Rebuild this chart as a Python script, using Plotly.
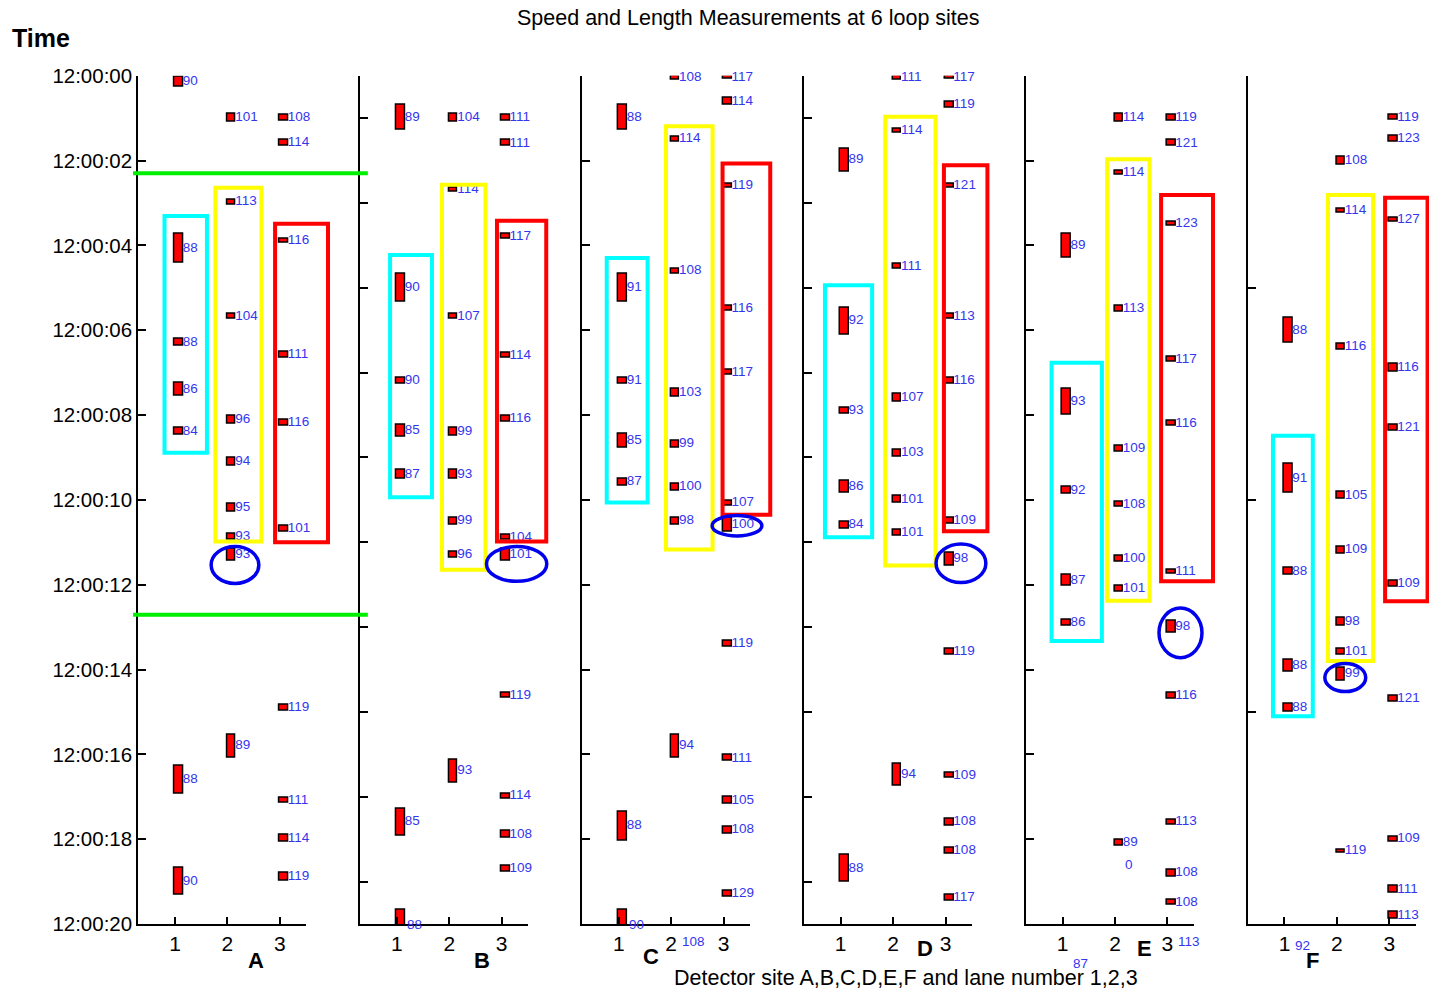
import plotly.graph_objects as go

W, H = 1429, 993

# ---------------- data (time = seconds after 12:00:00, dur = occupancy seconds) ----------------
panels = ["A", "B", "C", "D", "E", "F"]

A_lane = [1]*7 + [2]*9 + [3]*10
A_start = [0.02, 3.73, 6.21, 7.24, 8.30, 16.27, 18.67,
           0.90, 2.93, 5.62, 8.01, 9.00, 10.10, 10.80, 11.14, 15.53,
           0.93, 1.50, 3.85, 6.51, 8.10, 10.62, 14.84, 17.02, 17.90, 18.80]
A_dur = [0.24, 0.68, 0.16, 0.30, 0.17, 0.65, 0.64,
         0.18, 0.10, 0.12, 0.19, 0.19, 0.19, 0.15, 0.29, 0.54,
         0.13, 0.16, 0.09, 0.15, 0.14, 0.14, 0.13, 0.13, 0.17, 0.17]
A_speed = [90, 88, 88, 86, 84, 88, 90,
           101, 113, 104, 96, 94, 95, 93, 93, 89,
           108, 114, 116, 111, 116, 101, 119, 111, 114, 119]

B_lane = [1]*7 + [2]*8 + [3]*11
B_start = [0.69, 4.67, 7.11, 8.23, 9.30, 17.27, 19.67,
           0.90, 2.63, 5.62, 8.30, 9.30, 10.41, 11.22, 16.12,
           0.93, 1.52, 3.73, 6.53, 8.02, 10.81, 11.16, 14.55, 16.92, 17.81, 18.63]
B_dur = [0.58, 0.65, 0.15, 0.28, 0.19, 0.64, 0.68,
         0.19, 0.11, 0.12, 0.18, 0.19, 0.18, 0.15, 0.54,
         0.13, 0.14, 0.11, 0.13, 0.13, 0.14, 0.28, 0.12, 0.13, 0.16, 0.13]
B_speed = [89, 90, 90, 85, 87, 85, 88,
           104, 114, 107, 99, 93, 99, 96, 93,
           111, 111, 117, 114, 116, 104, 101, 119, 114, 108, 109]

C_lane = [1]*7 + [2]*9 + [3]*12
C_start = [0.69, 4.66, 7.11, 8.45, 9.49, 17.35, 19.67,
           0.01, 1.44, 4.54, 7.39, 8.60, 9.61, 10.41, 15.53, 20.35,
           0.00, 0.52, 2.54, 5.43, 6.92, 10.02, 10.43, 13.33, 16.02, 17.00, 17.70, 19.21]
C_dur = [0.58, 0.66, 0.15, 0.31, 0.18, 0.68, 0.68,
         0.08, 0.11, 0.13, 0.18, 0.17, 0.17, 0.18, 0.54, 0.14,
         0.07, 0.16, 0.11, 0.11, 0.14, 0.11, 0.32, 0.13, 0.14, 0.17, 0.17, 0.15]
C_speed = [88, 91, 91, 85, 87, 88, 90,
           108, 114, 108, 103, 99, 100, 98, 94, 108,
           117, 114, 119, 116, 117, 107, 100, 119, 111, 105, 108, 129]

D_lane = [1]*6 + [2]*8 + [3]*12
D_start = [1.71, 5.46, 7.82, 9.55, 10.51, 18.37,
           0.00, 1.24, 4.44, 7.49, 8.81, 9.91, 10.71, 16.23,
           0.01, 0.61, 2.54, 5.62, 7.13, 10.43, 11.24, 13.52, 16.43, 17.51, 18.21, 19.31]
D_dur = [0.56, 0.65, 0.15, 0.28, 0.17, 0.64,
         0.10, 0.10, 0.11, 0.19, 0.17, 0.16, 0.14, 0.52,
         0.05, 0.15, 0.11, 0.12, 0.13, 0.13, 0.31, 0.13, 0.13, 0.17, 0.14, 0.15]
D_speed = [89, 92, 93, 86, 84, 88,
           111, 114, 111, 107, 103, 101, 101, 94,
           117, 119, 121, 113, 116, 109, 98, 119, 109, 108, 108, 117]

E_lane = [1]*6 + [2]*8 + [3]*12
E_start = [3.72, 7.39, 9.70, 11.77, 12.83, 20.80,
           0.90, 2.24, 5.43, 8.73, 10.04, 11.32, 12.02, 18.02,
           0.93, 1.52, 3.44, 6.62, 8.13, 11.64, 12.85, 14.54, 17.53, 18.71, 19.43, 20.35]
E_dur = [0.56, 0.60, 0.15, 0.25, 0.14, 0.25,
         0.19, 0.10, 0.13, 0.14, 0.13, 0.14, 0.14, 0.14,
         0.13, 0.14, 0.10, 0.13, 0.13, 0.10, 0.28, 0.14, 0.13, 0.17, 0.11, 0.14]
E_speed = [89, 93, 92, 87, 86, 87,
           114, 114, 113, 109, 108, 100, 101, 89,
           119, 121, 123, 117, 116, 111, 98, 116, 113, 108, 108, 113]

F_lane = [1]*6 + [2]*9 + [3]*10
F_start = [5.70, 9.15, 11.61, 13.76, 14.81, 20.20,
           1.91, 3.14, 6.32, 9.81, 11.10, 12.79, 13.52, 13.95, 18.25,
           0.93, 1.42, 3.34, 6.80, 8.22, 11.91, 14.62, 17.94, 19.10, 19.71]
F_dur = [0.60, 0.68, 0.15, 0.29, 0.18, 0.60,
         0.18, 0.10, 0.15, 0.17, 0.17, 0.18, 0.14, 0.31, 0.06,
         0.11, 0.14, 0.11, 0.17, 0.14, 0.14, 0.14, 0.11, 0.17, 0.17]
F_speed = [88, 91, 88, 88, 88, 92,
           108, 114, 116, 105, 109, 98, 101, 99, 119,
           119, 123, 127, 116, 121, 109, 121, 109, 111, 113]

lanes = [1, 2, 3]
lane_labels = ["1", "2", "3"]
time_ticks = list(range(0, 21, 2))
time_tick_labels = ["12:00:%02d" % s for s in time_ticks]
panel_tickvals = [list(range(0, 21, 2)), list(range(1, 21, 2)), list(range(0, 21, 2)),
                  list(range(1, 21, 2)), list(range(0, 21, 2)), [0, 5, 10, 15]]

# highlighted groups per panel: (x0, x1) in lane units, (t0, t1) in seconds
cyan_box = [(0.80, 1.61, 3.31, 8.89), (0.87, 1.67, 4.23, 9.94), (0.77, 1.55, 4.30, 10.06),
            (0.70, 1.60, 4.94, 10.88), (0.79, 1.75, 6.77, 13.33), (0.78, 1.54, 8.49, 15.10)]
yellow_box = [(1.77, 2.65, 2.64, 10.98), (1.86, 2.69, 2.57, 11.65), (1.90, 2.79, 1.19, 11.17),
              (1.85, 2.81, 0.97, 11.55), (1.85, 2.66, 1.97, 12.38), (1.83, 2.69, 2.81, 13.80)]
red_box = [(2.91, 3.92, 3.49, 11.00), (2.91, 3.85, 3.42, 10.98), (2.98, 3.89, 2.07, 10.35),
           (2.97, 3.80, 2.11, 10.74), (2.88, 3.87, 2.81, 11.92), (2.92, 3.73, 2.88, 12.39)]
ellipse = [(1.69, 2.60, 11.10, 11.97), (2.71, 3.86, 11.10, 11.92), (2.78, 3.73, 10.37, 10.85),
           (2.82, 3.77, 11.04, 11.95), (2.84, 3.66, 12.55, 13.72), (1.77, 2.55, 13.86, 14.52)]
green_lines_t = [2.30, 12.71]
green_x = (0.20, 4.68)

# ---------------- geometry ----------------
XR = [0.3, 3.5]
YR = [20, 0]
panel_left_px = [138.3 + 221.9 * i for i in range(6)]
panel_w_px = 167.7
y_top_px, y_bot_px = 75.7, 924.0
YDOM = [(H - y_bot_px) / H, (H - y_top_px) / H]

FONT = "Liberation Sans, Arial, sans-serif"
BAR_W = 0.17
LABEL_COLOR = "#3535ee"
LABEL_SIZE = 13.5

data_sets = {
    "A": (A_lane, A_start, A_dur, A_speed),
    "B": (B_lane, B_start, B_dur, B_speed),
    "C": (C_lane, C_start, C_dur, C_speed),
    "D": (D_lane, D_start, D_dur, D_speed),
    "E": (E_lane, E_start, E_dur, E_speed),
    "F": (F_lane, F_start, F_dur, F_speed),
}

fig = go.Figure()
layout = dict(
    width=W, height=H, showlegend=False,
    margin=dict(l=0, r=0, t=0, b=0, autoexpand=False),
    paper_bgcolor="white", plot_bgcolor="rgba(0,0,0,0)",
    font=dict(family=FONT, color="black"),
    shapes=[], annotations=[], bargap=0,
)


def dom_x(v):
    return (v - XR[0]) / (XR[1] - XR[0])


def dom_y(t):
    return (YR[0] - t) / (YR[0] - YR[1])


def paper_y(t):
    return YDOM[0] + dom_y(t) * (YDOM[1] - YDOM[0])


for i, p in enumerate(panels):
    n = "" if i == 0 else str(i + 1)
    xa, ya = "x" + n, "y" + n
    lane, start, dur, speed = data_sets[p]

    fig.add_trace(go.Bar(
        x=lane, y=dur, base=start, width=BAR_W, offset=-0.01,
        marker=dict(color="#ff0000", line=dict(color="black", width=1.5)),
        xaxis=xa, yaxis=ya, hoverinfo="skip"))

    lx = [l + BAR_W - 0.02 for l in lane]
    ly = [s + d / 2 for s, d in zip(start, dur)]
    inside = [k for k in range(len(lane)) if ly[k] < 19.99]
    outside = [k for k in range(len(lane)) if ly[k] >= 19.99]
    fig.add_trace(go.Scatter(
        x=[lx[k] for k in inside], y=[ly[k] for k in inside],
        mode="text", text=[str(speed[k]) for k in inside], textposition="middle right",
        textfont=dict(family=FONT, size=LABEL_SIZE, color=LABEL_COLOR),
        cliponaxis=False, xaxis=xa, yaxis=ya, hoverinfo="skip"))
    # labels of vehicles whose centre lies just past 12:00:20 (still printed below the axis)
    for k in outside:
        layout["annotations"].append(dict(
            text=str(speed[k]), x=lx[k] + 0.01, xref=xa, y=paper_y(ly[k]), yref="paper",
            showarrow=False, xanchor="left", yanchor="middle",
            font=dict(family=FONT, size=LABEL_SIZE, color=LABEL_COLOR)))

    x0 = panel_left_px[i] / W
    layout["xaxis" + n] = dict(
        domain=[x0, (panel_left_px[i] + panel_w_px) / W], range=XR, anchor=ya,
        tickvals=lanes, ticktext=lane_labels, ticks="inside", ticklen=7, tickwidth=1.5,
        tickcolor="black", showline=True, linecolor="black", linewidth=2,
        showgrid=False, zeroline=False, fixedrange=True,
        tickfont=dict(family=FONT, size=21, color="black"))
    layout["yaxis" + n] = dict(
        domain=YDOM, range=YR, anchor=xa,
        tickvals=panel_tickvals[i] if i else time_ticks,
        ticktext=time_tick_labels if i == 0 else None,
        showticklabels=(i == 0),
        ticks="inside", ticklen=8, tickwidth=1.5, tickcolor="black",
        showline=True, linecolor="black", linewidth=2,
        showgrid=False, zeroline=False, fixedrange=True,
        tickfont=dict(family=FONT, size=20.5, color="black"))

    xr, yr = xa + " domain", ya + " domain"
    for box, col in ((cyan_box[i], "#00ffff"), (yellow_box[i], "#ffff00"), (red_box[i], "#ff0000")):
        bx0, bx1, bt0, bt1 = box
        layout["shapes"].append(dict(
            type="rect", xref=xr, yref=yr, x0=dom_x(bx0), x1=dom_x(bx1),
            y0=dom_y(bt0), y1=dom_y(bt1), line=dict(color=col, width=4), layer="above"))
    ex0, ex1, et0, et1 = ellipse[i]
    layout["shapes"].append(dict(
        type="circle", xref=xr, yref=yr, x0=dom_x(ex0), x1=dom_x(ex1),
        y0=dom_y(et0), y1=dom_y(et1), line=dict(color="#0000ee", width=3.5), layer="above"))
    if i == 0:
        for gt in green_lines_t:
            layout["shapes"].append(dict(
                type="line", xref=xr, yref=yr, x0=dom_x(green_x[0]), x1=dom_x(green_x[1]),
                y0=dom_y(gt), y1=dom_y(gt), line=dict(color="#00ee00", width=4), layer="above"))

# panel letters (x in lane units, y in px from top)
letter_x = [2.55, 2.63, 1.62, 2.61, 2.57, 1.54]
letter_ypx = [960, 960, 956, 948, 948, 960]
for i, p in enumerate(panels):
    n = "" if i == 0 else str(i + 1)
    layout["annotations"].append(dict(
        text="<b>%s</b>" % p, x=letter_x[i], xref="x" + n, y=(H - letter_ypx[i]) / H, yref="paper",
        showarrow=False, xanchor="center", yanchor="middle",
        font=dict(family=FONT, size=22, color="black")))

# stray label under lane 2 of site E
layout["annotations"].append(dict(
    text="0", x=2 + BAR_W - 0.02, xref="x5", y=18.6, yref="y5", showarrow=False,
    xanchor="left", yanchor="middle", font=dict(family=FONT, size=LABEL_SIZE, color=LABEL_COLOR)))

layout["annotations"] += [
    dict(text="Speed and Length Measurements at 6 loop sites", x=748 / W, y=(H - 18) / H,
         xref="paper", yref="paper", showarrow=False, xanchor="center", yanchor="middle",
         font=dict(family=FONT, size=21.5, color="black")),
    dict(text="Detector site A,B,C,D,E,F and lane number 1,2,3", x=906 / W, y=(H - 978) / H,
         xref="paper", yref="paper", showarrow=False, xanchor="center", yanchor="middle",
         font=dict(family=FONT, size=21.5, color="black")),
    dict(text="<b>Time</b>", x=10 / W, y=(H - 38) / H, xref="paper", yref="paper",
         showarrow=False, xanchor="left", yanchor="middle",
         font=dict(family=FONT, size=25, color="black")),
]

fig.update_layout(**layout)
fig.write_html(
    "out.html",
    config={"displayModeBar": False},
    post_script="document.body.style.margin='0';document.body.style.overflow='hidden';",
)
